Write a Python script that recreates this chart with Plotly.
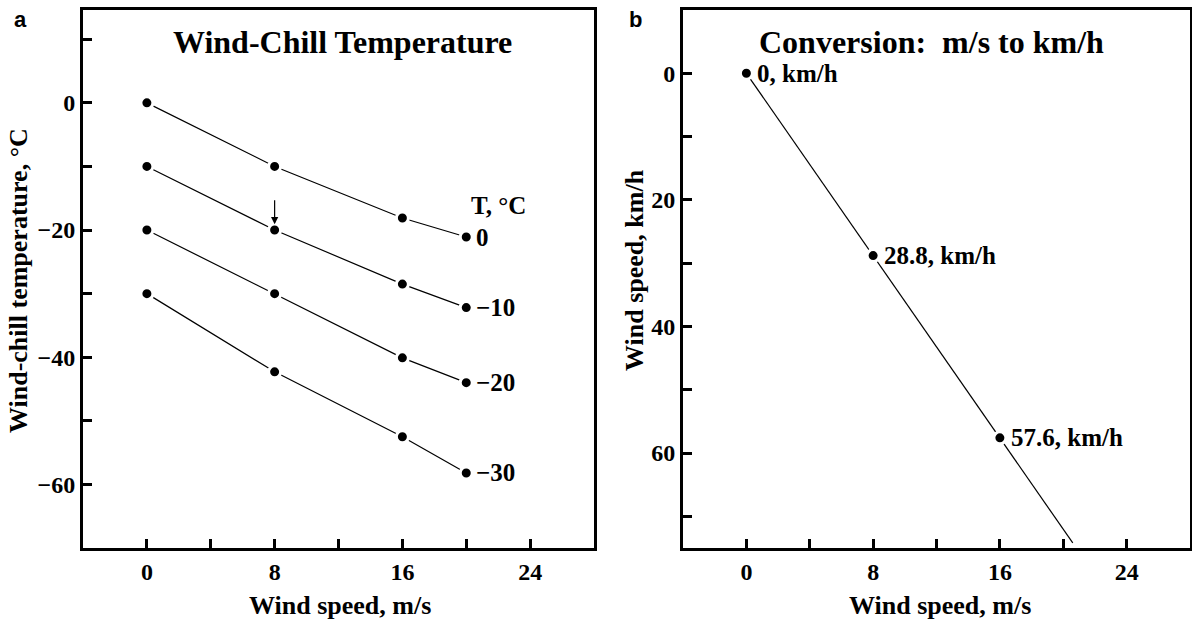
import plotly.graph_objects as go

# ---- data ----
wind_ms = [0, 8, 16, 20]
air_temps = [0, -10, -20, -30]
wc_t0 = [0, -10, -18.1, -21.1]
wc_tm10 = [-10, -20, -28.5, -32.2]
wc_tm20 = [-20, -30, -40.1, -44.0]
wc_tm30 = [-30, -42.3, -52.5, -58.2]
temp_labels = ["0", "\u221210", "\u221220", "\u221230"]

conv_ms = [0, 8, 16]
conv_kmh = [0, 28.8, 57.6]
conv_line_ms = [0, 8, 16, 20.6]
conv_line_kmh = [0, 28.8, 57.6, 74.2]
conv_labels = ["0, km/h", "28.8, km/h", "57.6, km/h"]

arrow_x, arrow_y = 8, -20

x_ticks = [0, 4, 8, 12, 16, 20, 24]
x_ticktext = ["0", "", "8", "", "16", "", "24"]
ya_ticks = [-60, -50, -40, -30, -20, -10, 0, 10]
ya_ticktext = ["\u221260", "", "\u221240", "", "\u221220", "", "0", ""]
yb_ticks = [0, 10, 20, 30, 40, 50, 60, 70]
yb_ticktext = ["0", "", "20", "", "40", "", "60", ""]

W, H = 1192, 621
SERIF = "Liberation Serif"


def px(x):
    return x / W


def py(y):
    return 1 - y / H


def bold(labels):
    return ["<b>%s</b>" % t if t else "" for t in labels]


fig = go.Figure()

marker_style = dict(size=12, color="black", line=dict(color="white", width=3))
for series in [wc_t0, wc_tm10, wc_tm20, wc_tm30]:
    fig.add_trace(go.Scatter(
        x=wind_ms, y=series, mode="lines+markers",
        line=dict(color="black", width=1.2), marker=marker_style,
        xaxis="x", yaxis="y", showlegend=False, hoverinfo="skip"))

fig.add_trace(go.Scatter(
    x=conv_line_ms, y=conv_line_kmh, mode="lines",
    line=dict(color="black", width=1.2),
    xaxis="x2", yaxis="y2", showlegend=False, hoverinfo="skip"))
fig.add_trace(go.Scatter(
    x=conv_ms, y=conv_kmh, mode="markers", marker=marker_style,
    xaxis="x2", yaxis="y2", showlegend=False, hoverinfo="skip"))

font_tick = dict(family=SERIF, size=24, color="black")
axis_common = dict(showline=True, linewidth=3, linecolor="black", mirror=True,
                   ticks="inside", ticklen=9, tickwidth=2.5, tickcolor="black",
                   showgrid=False, zeroline=False, tickfont=font_tick,
                   automargin=False, fixedrange=True)

fig.update_layout(
    width=W, height=H, template="none",
    paper_bgcolor="white", plot_bgcolor="white",
    margin=dict(l=0, r=0, t=0, b=0),
    xaxis=dict(domain=[px(83), px(594)], range=[-4, 28], tickmode="array",
               tickvals=x_ticks, ticktext=bold(x_ticktext), anchor="y", **axis_common),
    yaxis=dict(domain=[py(548), py(10)], range=[-70, 14.6], tickmode="array",
               tickvals=ya_ticks, ticktext=bold(ya_ticktext), anchor="x", **axis_common),
    xaxis2=dict(domain=[px(683), px(1190)], range=[-4, 28], tickmode="array",
                tickvals=x_ticks, ticktext=bold(x_ticktext), anchor="y2", **axis_common),
    yaxis2=dict(domain=[py(548), py(10)], range=[75, -10], tickmode="array",
                tickvals=yb_ticks, ticktext=bold(yb_ticktext), anchor="x2", **axis_common),
)

ann = []
lab_font = dict(family=SERIF, size=25, color="black")
for series, lab in zip([wc_t0, wc_tm10, wc_tm20, wc_tm30], temp_labels):
    ann.append(dict(x=wind_ms[-1], y=series[-1], xref="x", yref="y",
                    text="<b>%s</b>" % lab,
                    showarrow=False, xanchor="left", yanchor="middle",
                    xshift=8, font=lab_font))
ann.append(dict(x=wind_ms[-1], y=-16.1, xref="x", yref="y", text="<b>T, \u00b0C</b>",
                showarrow=False, xanchor="left", yanchor="middle", xshift=3,
                font=lab_font))
for xv, yv, lab in zip(conv_ms, conv_kmh, conv_labels):
    ann.append(dict(x=xv, y=yv, xref="x2", yref="y2", text="<b>%s</b>" % lab,
                    showarrow=False, xanchor="left", yanchor="middle",
                    xshift=9, font=lab_font))
# arrow
ann.append(dict(x=arrow_x, y=arrow_y + 0.9, xref="x", yref="y",
                ax=arrow_x, ay=arrow_y + 4.9, axref="x", ayref="y",
                text="", showarrow=True, arrowhead=2, arrowsize=1.2,
                arrowwidth=1.2, arrowcolor="black", standoff=0))
# titles
title_font = dict(family=SERIF, size=32, color="black")
ann.append(dict(x=px(342), y=py(42), xref="paper", yref="paper",
                text="<b>Wind-Chill Temperature</b>", showarrow=False,
                xanchor="center", yanchor="middle", font=title_font))
ann.append(dict(x=px(931), y=py(42), xref="paper", yref="paper",
                text="<b>Conversion:\u00a0 m/s to km/h</b>", showarrow=False,
                xanchor="center", yanchor="middle", font=title_font))
axt_font = dict(family=SERIF, size=26, color="black")
ann.append(dict(x=px(340), y=py(605), xref="paper", yref="paper",
                text="<b>Wind speed, m/s</b>", showarrow=False,
                xanchor="center", yanchor="middle", font=axt_font))
ann.append(dict(x=px(940), y=py(605), xref="paper", yref="paper",
                text="<b>Wind speed, m/s</b>", showarrow=False,
                xanchor="center", yanchor="middle", font=axt_font))
ann.append(dict(x=px(18), y=py(281), xref="paper", yref="paper",
                text="<b>Wind-chill temperature, \u00b0C</b>", showarrow=False,
                textangle=-90, xanchor="center", yanchor="middle", font=axt_font))
ann.append(dict(x=px(635), y=py(270), xref="paper", yref="paper",
                text="<b>Wind speed, km/h</b>", showarrow=False,
                textangle=-90, xanchor="center", yanchor="middle", font=axt_font))
letter_font = dict(family="Liberation Sans", size=22, color="black")
ann.append(dict(x=px(20), y=py(19), xref="paper", yref="paper", text="<b>a</b>",
                showarrow=False, xanchor="center", yanchor="middle", font=letter_font))
ann.append(dict(x=px(636), y=py(19), xref="paper", yref="paper", text="<b>b</b>",
                showarrow=False, xanchor="center", yanchor="middle", font=letter_font))

fig.update_layout(annotations=ann)
fig.write_html("out.html")
